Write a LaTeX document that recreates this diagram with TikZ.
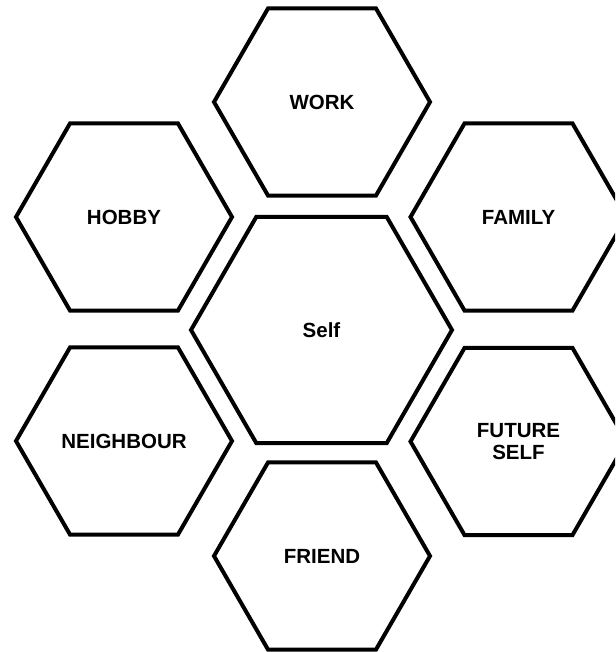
\documentclass[tikz,border=0pt]{standalone}
\usepackage{fontspec}
\setmainfont{Liberation Sans}
\usetikzlibrary{shapes.geometric}
\begin{document}
\begin{tikzpicture}[x=1pt,y=-1pt,
  hexa/.style={draw=black, line width=4pt, regular polygon, regular polygon sides=6,
    minimum size=216pt, inner sep=0pt, align=center,
    font=\bfseries\fontsize{20.5}{21.5}\selectfont},
  bighexa/.style={hexa, minimum size=261pt}]
\useasboundingbox (0,0) rectangle (615,652);
\clip (0,0) rectangle (615,652);
\node[hexa] (work) at (322,102) {WORK};
\node[hexa] (hobby) at (124,217) {HOBBY};
\node[hexa] (family) at (518.5,217) {FAMILY};
\node[bighexa] (self) at (321.5,330) {Self};
\node[hexa] (neighbour) at (124,441) {NEIGHBOUR};
\node[hexa] (future) at (518.5,441.5) {FUTURE\\SELF};
\node[hexa] (friend) at (322,556) {FRIEND};
\end{tikzpicture}
\end{document}
